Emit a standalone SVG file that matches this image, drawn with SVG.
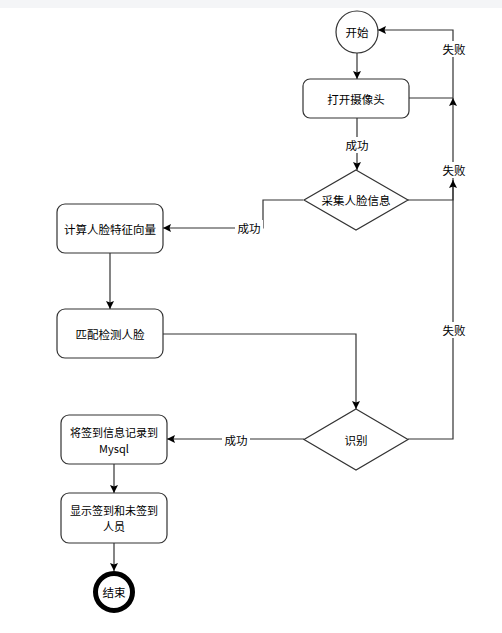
<svg xmlns="http://www.w3.org/2000/svg" width="502" height="633" viewBox="0 0 502 633">
<style>
text{font-family:"Noto Sans CJK SC","Microsoft YaHei","Liberation Sans",sans-serif;font-size:11.5px;fill:#000;text-anchor:middle;dominant-baseline:central}
.t2{font-size:11px}
.n{fill:#fff;stroke:#333;stroke-width:1.2}
.e{fill:none;stroke:#333;stroke-width:1.2}
.lb{fill:#fff}
</style>
<defs>
<marker id="a" markerUnits="userSpaceOnUse" markerWidth="10" markerHeight="10" refX="8" refY="4" orient="auto">
<path d="M0,0 L8,4 L0,8 L1.5,4 Z" fill="#000"/>
</marker>
</defs>
<rect x="0" y="0" width="502" height="8" fill="#f4f5f7"/>
<g id="connectors">
<path class="e" d="M357,53 V79" marker-end="url(#a)"/>
<path class="e" d="M357,118 V170" marker-end="url(#a)"/>
<path class="e" d="M303,200 H263 V228 H163" marker-end="url(#a)"/>
<path class="e" d="M110,253 V309" marker-end="url(#a)"/>
<path class="e" d="M163,334 H356 V409" marker-end="url(#a)"/>
<path class="e" d="M304,439 H167" marker-end="url(#a)"/>
<path class="e" d="M114,464 V493" marker-end="url(#a)"/>
<path class="e" d="M114,543 V571" marker-end="url(#a)"/>
<path class="e" d="M409,98 H453 V30 H378" marker-end="url(#a)"/>
<path class="e" d="M408,200 H453 V98" marker-end="url(#a)"/>
<path class="e" d="M408,439 H453 V180" marker-end="url(#a)"/>
<rect class="lb" x="343" y="137" width="28" height="16"/>
<text x="357" y="145">成功</text>
<rect class="lb" x="235" y="220" width="28" height="16"/>
<text x="249" y="228">成功</text>
<rect class="lb" x="222" y="432" width="28" height="16"/>
<text x="236" y="440">成功</text>
<rect class="lb" x="440" y="41" width="28" height="16"/>
<text x="454" y="49">失败</text>
<rect class="lb" x="440" y="162" width="28" height="16"/>
<text x="454" y="170">失败</text>
<rect class="lb" x="440" y="322" width="28" height="16"/>
<text x="454" y="330">失败</text>
</g>
<g id="start">
<circle class="n" cx="357" cy="32" r="21"/>
<text x="357" y="32">开始</text>
</g>
<g id="open-camera">
<rect class="n" x="303" y="79" width="106" height="39" rx="7"/>
<text x="356" y="98.5">打开摄像头</text>
</g>
<g id="capture">
<path class="n" d="M356,170 L408,200 L356,230 L304,200 Z"/>
<text x="356" y="200">采集人脸信息</text>
</g>
<g id="compute">
<rect class="n" x="57" y="204" width="106" height="49" rx="8"/>
<text x="110" y="228.5">计算人脸特征向量</text>
</g>
<g id="match">
<rect class="n" x="57" y="309" width="106" height="49" rx="8"/>
<text x="110" y="334">匹配检测人脸</text>
</g>
<g id="recognize">
<path class="n" d="M356,409 L408,439.5 L356,470 L304,439.5 Z"/>
<text x="356" y="440">识别</text>
</g>
<g id="record">
<rect class="n" x="61" y="415" width="106" height="49" rx="8"/>
<text class="t2" x="114" y="432">将签到信息记录到</text>
<text class="t2" x="114" y="448">Mysql</text>
</g>
<g id="display">
<rect class="n" x="61" y="493" width="106" height="50" rx="8"/>
<text class="t2" x="114" y="510">显示签到和未签到</text>
<text class="t2" x="114" y="526">人员</text>
</g>
<g id="end">
<circle cx="114" cy="592" r="18.5" fill="#fff" stroke="#000" stroke-width="5"/>
<text x="114" y="592">结束</text>
</g>
</svg>
